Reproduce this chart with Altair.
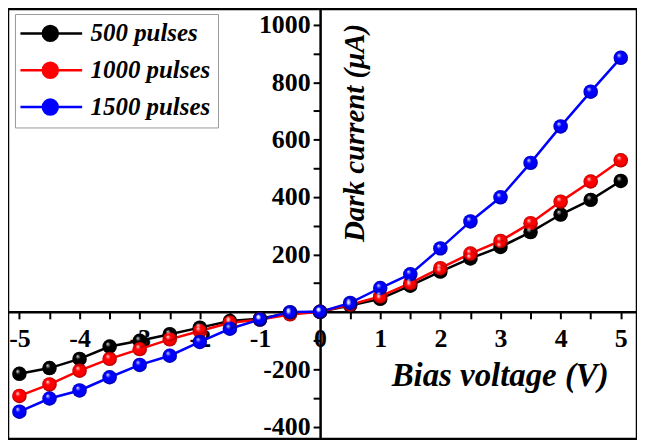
import altair as alt
import pandas as pd

# Bias voltage (V) and dark current (uA) for the three pulse counts
bias = [-5, -4.5, -4, -3.5, -3, -2.5, -2, -1.5, -1, -0.5, 0,
        0.5, 1, 1.5, 2, 2.5, 3, 3.5, 4, 4.5, 5]
current_500 = [-216, -196, -164, -121, -101, -78, -55, -32, -24, -3, 0,
               22, 45, 91, 140, 186, 226, 278, 339, 390, 456]
current_1000 = [-293, -253, -205, -164, -130, -96, -67, -38, -27, -9, 0,
                25, 54, 100, 152, 203, 247, 309, 384, 454, 528]
current_1500 = [-348, -302, -274, -228, -185, -153, -105, -59, -27, -1, 0,
                31, 83, 131, 221, 315, 399, 519, 646, 767, 885]

series_names = ["500 pulses", "1000 pulses", "1500 pulses"]
series_colors = ["#000000", "#ff0000", "#0000ff"]

x_ticks = [-5, -4.5, -4, -3.5, -3, -2.5, -2, -1.5, -1, -0.5, 0,
           0.5, 1, 1.5, 2, 2.5, 3, 3.5, 4, 4.5, 5]
y_ticks = [-400, -300, -200, -100, 0, 100, 200, 300, 400, 500,
           600, 700, 800, 900, 1000]

rows = []
for name, vals in zip(series_names, [current_500, current_1000, current_1500]):
    for b, c in zip(bias, vals):
        rows.append({"bias": b, "current": c, "series": name})
df = pd.DataFrame(rows)

W, H = 632, 432
x_dom = [-5.19, 5.27]
y_dom = [-443, 1055]
# push the axes inside so they cross at the origin
y_axis_off = -W * (0 - x_dom[0]) / (x_dom[1] - x_dom[0])
x_axis_off = -H * (0 - y_dom[0]) / (y_dom[1] - y_dom[0])

FONT = "Liberation Serif"

axis_style = dict(
    domainColor="black", domainWidth=2.5, tickColor="black", tickWidth=2,
    tickSize=7, labelFont=FONT, labelFontWeight="bold", labelFontSize=26,
    labelColor="black", grid=False, labelOverlap=False, labelFlush=False,
    titleFont=FONT, titleFontStyle="italic", titleFontWeight="bold",
    titleColor="black", titleAlign="center", titleBaseline="middle",
    zindex=0,
)

x_enc = alt.X(
    "bias:Q",
    scale=alt.Scale(domain=x_dom, nice=False, zero=False),
    axis=alt.Axis(
        values=x_ticks, offset=x_axis_off, labelPadding=7,
        labelExpr="datum.value % 1 == 0 ? toString(datum.value) : ''",
        title="Bias voltage (V)", titleFontSize=33, titleX=494, titleY=64,
        **axis_style,
    ),
)
y_enc = alt.Y(
    "current:Q",
    scale=alt.Scale(domain=y_dom, nice=False, zero=False),
    axis=alt.Axis(
        values=y_ticks, offset=y_axis_off, labelPadding=3,
        labelExpr="datum.value % 200 == 0 && datum.value != 0 ? toString(datum.value) : ''",
        title="Dark current (μA)", titleFontSize=29, titleAngle=-90,
        titleX=35, titleY=124,
        **axis_style,
    ),
)

legend_symbol = "M-7,0L24,0M11.75,0A3.75,3.75,0,1,1,4.25,0A3.75,3.75,0,1,1,11.75,0Z"

color_enc = alt.Color(
    "series:N",
    scale=alt.Scale(domain=series_names, range=series_colors),
    sort=series_names,
    legend=alt.Legend(
        title=None, orient="none", legendX=7, legendY=5,
        symbolType=legend_symbol, symbolSize=16, symbolStrokeWidth=2.5,
        symbolOpacity=1, labelFont=FONT, labelFontSize=25,
        labelFontStyle="italic", labelFontWeight="bold", labelColor="black",
        labelOffset=44, padding=7, rowPadding=11, strokeColor="#999999",
        fillColor="white",
    ),
)

base = alt.Chart(df)

lines = base.mark_line(strokeWidth=2.5).encode(x=x_enc, y=y_enc, color=color_enc)
balls = base.mark_circle(size=210, opacity=1).encode(x=x_enc, y=y_enc, color=color_enc)

shine_fill = {
    "gradient": "radial",
    "x1": 0.35, "y1": 0.3, "r1": 0,
    "x2": 0.5, "y2": 0.5, "r2": 0.5,
    "stops": [
        {"offset": 0, "color": "rgba(255,255,255,0.9)"},
        {"offset": 0.35, "color": "rgba(255,255,255,0)"},
        {"offset": 0.75, "color": "rgba(0,0,0,0)"},
        {"offset": 1, "color": "rgba(0,0,0,0.35)"},
    ],
}
shine = base.mark_circle(size=210, opacity=1, fill=shine_fill).encode(x=x_enc, y=y_enc)

chart = alt.layer(lines, balls, shine).properties(
    width=W, height=H, padding=0,
    autosize=alt.AutoSizeParams(type="none"),
    background="white",
).configure_view(stroke="black", strokeWidth=2.5)

chart.save("out.html", embed_options={"renderer": "svg", "actions": False})
